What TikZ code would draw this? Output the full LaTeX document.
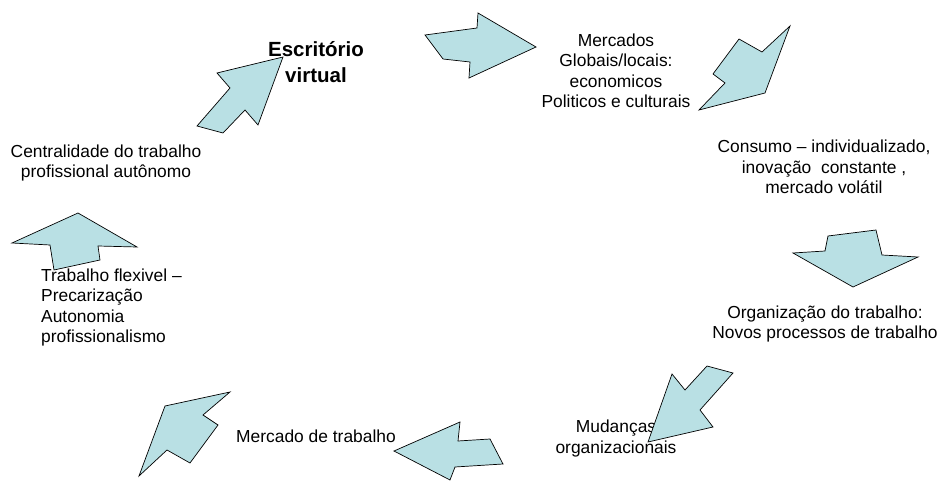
\documentclass[tikz,border=0pt]{standalone}
\usepackage{fontspec}
\setmainfont{Liberation Sans}
\definecolor{setafill}{RGB}{185,224,228}
\begin{document}
\begin{tikzpicture}[x=1pt,y=-1pt,
    seta/.style={draw=black,fill=setafill,line width=0.7pt,line join=miter},
    rotulo/.style={inner sep=0pt,anchor=base,align=center,
      font=\fontsize{17.4}{20.6}\selectfont}]
  \useasboundingbox (0,0) rectangle (938,481);

  % texts of the cycle (base = last line)
  \node[rotulo,font=\fontsize{20.5}{26.6}\selectfont\bfseries] (escr) at (316,83)
    {Escrit\'orio\\virtual};
  \node[rotulo] (merc) at (616,108)
    {Mercados\\Globais/locais:\\economicos\\Politicos e culturais};
  \node[rotulo] (cons) at (824,194)
    {Consumo -- individualizado,\\inova\c{c}\~ao\ \ constante ,\\mercado vol\'atil};
  \node[rotulo] (orga) at (825,339)
    {Organiza\c{c}\~ao do trabalho:\\Novos processos de trabalho};
  \node[rotulo] (muda) at (616,453)
    {Mudan\c{c}as\\organizacionais};
  \node[rotulo,anchor=base west] (mtrab) at (236,442) {Mercado de trabalho};
  \node[rotulo,anchor=base west,align=left] (flex) at (41,343)
    {Trabalho flexivel --\\Precariza\c{c}\~ao\\Autonomia\\profissionalismo};
  \node[rotulo] (cent) at (106,178)
    {Centralidade do trabalho\\profissional aut\^onomo};

  % block arrows
  \draw[seta] (283, 57)--(217, 73)--(230, 88)--(197,126)--(223,133)--(245,110)--(258,125)--cycle;
  \draw[seta] (536, 47)--(478, 13)--(477, 28)--(425, 35)--(443, 59)--(470, 62)--(469, 78)--cycle;
  \draw[seta] (699,110)--(725, 83)--(713, 74)--(739, 39)--(762, 52)--(790, 26)--(765, 93)--cycle;
  \draw[seta] (828,236)--(876,230)--(882,255)--(918,257)--(853,287)--(793,253)--(825,251)--cycle;
  \draw[seta] (648,442)--(672,374)--(685,390)--(707,366)--(733,373)--(700,410)--(713,427)--cycle;
  \draw[seta] (394,451)--(460,422)--(458,441)--(490,439)--(503,464)--(455,467)--(450,480)--cycle;
  \draw[seta] (139,476)--(165,406)--(230,392)--(203,415)--(218,425)--(190,463)--(167,450)--cycle;
  \draw[seta] ( 78,213)--(137,247)--( 98,246)--(100,260)--( 54,270)--( 50,245)--( 12,243)--cycle;
\end{tikzpicture}
\end{document}
